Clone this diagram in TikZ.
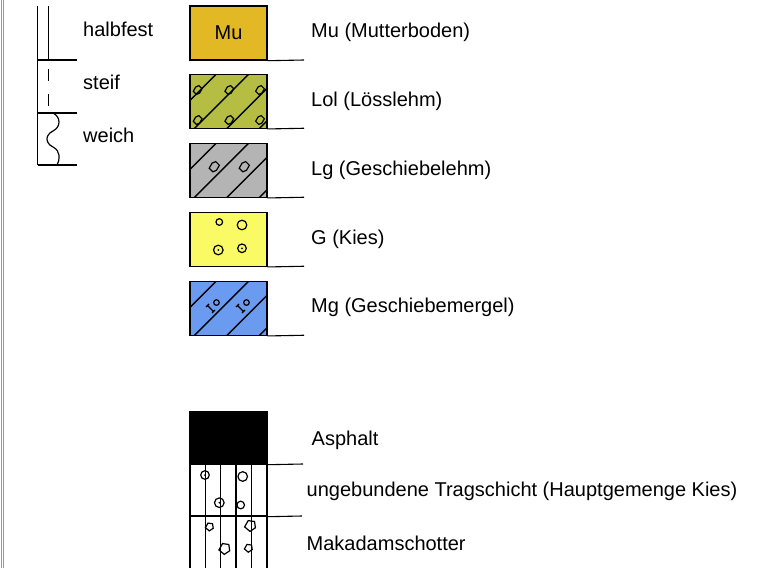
\documentclass[tikz,border=0pt]{standalone}
\usepackage{fontspec}
\setmainfont{Liberation Sans}
\usepackage{tikz}
\definecolor{mucol}{HTML}{E2B925}
\definecolor{lolcol}{HTML}{B5BD42}
\definecolor{lgcol}{HTML}{B4B4B4}
\definecolor{gcol}{HTML}{FAFA64}
\definecolor{mgcol}{HTML}{6A9BF0}
\tikzstyle{soilbox} = [draw=black, line width=1.4pt, rectangle,
    minimum width=77pt, minimum height=53.5pt, inner sep=0pt,
    font=\fontsize{20}{24}\selectfont]
\tikzstyle{layertext} = [anchor=base west, inner sep=0pt, font=\fontsize{20}{24}\selectfont]
\tikzstyle{leader} = [line width=1.1pt]
\tikzstyle{hatch} = [line width=1.3pt]
\tikzstyle{grain} = [line width=1.2pt]
\newcommand{\hatchbox}[1]{\begin{scope}[shift={(#1.north west)}]
    \clip (0,0) rectangle (77,53.5);
    \draw[hatch] (0,27) -- (27,0) (0,59.5) -- (59.5,0) (0,92) -- (92,0) (0,124.5) -- (124.5,0);
  \end{scope}}
\newcommand{\pebble}[3]{\draw[grain,shift={(#1,#2)},scale=#3] (-3.5,1) -- (-1.5,-2.5) -- (1,-3.5) -- (3.5,-1) -- (1.5,2.5) -- (-1,3.5) -- cycle;}
\newcommand{\stone}[3]{\draw[grain,shift={(#1,#2)},scale=#3] (-3,0.5) -- (-1,-3) -- (2.5,-2.5) -- (3,1) -- (0,3) -- cycle;}
\newcommand{\mergel}[2]{\begin{scope}[shift={(#1,#2)},rotate=45,scale=1.4]
    \draw[grain] (-3.5,-3) -- (-3.5,3) (-5,-3) -- (-2,-3) (-5,3) -- (-2,3);
    \draw[grain] (2.5,0) circle (2);
  \end{scope}}

\begin{document}
\begin{tikzpicture}[x=1pt,y=-1pt]
\useasboundingbox (0,0) rectangle (780,568);
\draw[gray!80, line width=0.8pt] (1.2,0) -- (1.2,568) (3.8,0) -- (3.8,568);

\draw[line width=1.8pt] (37.5,6) -- (37.5,165);
\draw[line width=1.4pt] (37.5,60) -- (76.5,60) (37.5,113) -- (76.5,113) (37.5,165) -- (76.5,165);
\draw[line width=1.3pt] (48.3,6) -- (48.3,60) (48.3,69) -- (48.3,81) (48.3,94) -- (48.3,106);
\draw[line width=1.2pt] (53,113) .. controls (61,117) and (61,127) .. (53,131)
    .. controls (45,135) and (45,143) .. (53,147) .. controls (61,151) and (60,160) .. (57,165);
\node[layertext] (halbfest) at (83,36) {halbfest};
\node[layertext] (steif) at (83,89) {steif};
\node[layertext] (weich) at (83,142.5) {weich};

\node[soilbox, fill=mucol, minimum height=54pt] (mu) at (228.5,33) {\raisebox{-2pt}{Mu}};
\node[soilbox, fill=lolcol] (lol) at (228.5,101.5) {};
\node[soilbox, fill=lgcol] (lg) at (228.5,170.5) {};
\node[soilbox, fill=gcol] (g) at (228.5,239.5) {};
\node[soilbox, fill=mgcol] (mg) at (228.5,308.5) {};
\hatchbox{lol}
\hatchbox{lg}
\hatchbox{mg}
\pebble{197.7}{90}{1.25} \pebble{229.3}{90}{1.25} \pebble{260}{90}{1.25}
\pebble{197.7}{120}{1.25} \pebble{229.3}{120}{1.25} \pebble{260}{120}{1.25}
\pebble{214.3}{166.7}{1.45} \pebble{244.3}{166.7}{1.45}
\draw[grain] (219.3,222) circle (3.3) (242,225) circle (4.8) (218.3,250) circle (4.8) (242,248.3) circle (4.3);
\fill (218.3,250) circle (1) (242,248.3) circle (1);
\mergel{214}{305}
\mergel{244}{305}

\node[soilbox, fill=black, minimum height=52pt] (asphalt) at (228.5,438) {};
\node[soilbox, minimum height=52pt] (trag) at (228.5,490) {};
\node[soilbox, minimum height=54pt] (schotter) at (228.5,543) {};
\foreach \x in {205.3,220.6,236,251.3} \draw[hatch] (\x,464) -- (\x,570);
\draw[grain] (205,475) circle (4.3) (242.7,476.5) circle (4.8) (219.3,502.7) circle (4.8) (240.7,505) circle (3.8);
\fill (205,475) circle (1) (219.3,502.7) circle (1);
\stone{209.3}{527}{1.3} \stone{250}{526}{1.8} \stone{224.3}{549}{1.8} \stone{248.3}{548.3}{1.3}

\coordinate (muend) at (304,60);
\coordinate (lolend) at (304,128.25);
\coordinate (lgend) at (304,197.25);
\coordinate (gend) at (304,266.25);
\coordinate (mgend) at (304,335.25);
\coordinate (asphaltend) at (303,464);
\coordinate (tragend) at (302,516);
\draw[leader] (mu.south east) -- (muend);
\draw[leader] (lol.south east) -- (lolend);
\draw[leader] (lg.south east) -- (lgend);
\draw[leader] (g.south east) -- (gend);
\draw[leader] (mg.south east) -- (mgend);
\draw[leader] (asphalt.south east) -- (asphaltend);
\draw[leader] (trag.south east) -- (tragend);

\node[layertext] (mulabel) at (311,37) {Mu (Mutterboden)};
\node[layertext] (lollabel) at (311,106) {Lol (Lösslehm)};
\node[layertext] (lglabel) at (311,175) {Lg (Geschiebelehm)};
\node[layertext] (glabel) at (311,244.5) {G (Kies)};
\node[layertext] (mglabel) at (311,312.5) {Mg (Geschiebemergel)};
\node[layertext] (asphaltlabel) at (311.5,445.5) {Asphalt};
\node[layertext] (traglabel) at (306.5,496.5) {ungebundene Tragschicht (Hauptgemenge Kies)};
\node[layertext] (schotterlabel) at (306.5,550) {Makadamschotter};
\end{tikzpicture}
\end{document}
